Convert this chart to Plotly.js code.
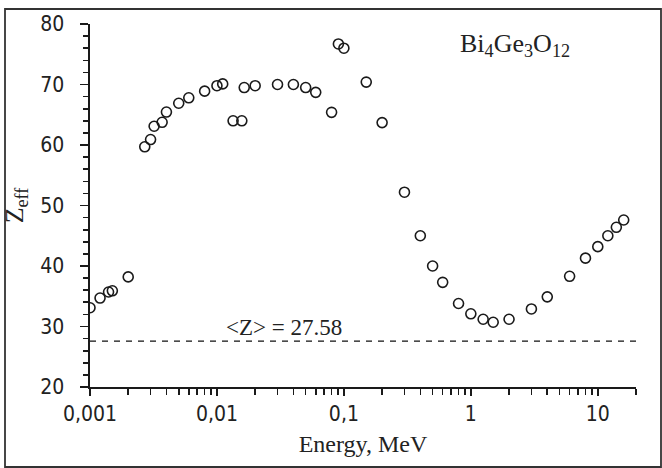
<!DOCTYPE html>
<html>
<head>
<meta charset="utf-8">
<script src="https://cdn.plot.ly/plotly-3.0.1.min.js"></script>
<style>html,body{margin:0;padding:0;background:#fff;}#chart{width:662px;height:468px;}</style>
</head>
<body>
<div id="chart"></div>
<script>
// Photon energy (MeV)
const energy = [0.001, 0.0012, 0.0014, 0.0015, 0.002, 0.0027, 0.003, 0.0032, 0.0037, 0.004,
  0.005, 0.006, 0.008, 0.01, 0.0111, 0.0134, 0.0157, 0.0164, 0.02, 0.03,
  0.04, 0.05, 0.06, 0.08, 0.0905, 0.1, 0.15, 0.2, 0.3, 0.4,
  0.5, 0.6, 0.8, 1, 1.25, 1.5, 2, 3, 4, 6,
  8, 10, 12, 14, 16];
// Effective atomic number
const zeff = [33.1, 34.7, 35.7, 35.9, 38.2, 59.7, 60.9, 63.1, 63.75, 65.45,
  66.9, 67.8, 68.9, 69.8, 70.1, 64.0, 64.0, 69.5, 69.8, 70.0,
  70.0, 69.5, 68.7, 65.4, 76.7, 76.0, 70.4, 63.7, 52.2, 45.0,
  40.0, 37.3, 33.8, 32.1, 31.2, 30.7, 31.2, 32.9, 34.9, 38.3,
  41.3, 43.2, 45.0, 46.4, 47.6];
// Mean atomic number line
const meanZ = 27.58;
const meanLineX = [0.001, 20];
// Tick values / labels
const xTickVals = [0.001, 0.01, 0.1, 1, 10];
const xTickText = ["0,001", "0,01", "0,1", "1", "10"];
const yTickVals = [20, 30, 40, 50, 60, 70, 80];

const tickFont = {family: "DejaVu Sans Condensed, DejaVu Sans, sans-serif", size: 21, color: "#222"};
const serif = "Liberation Serif, Times New Roman, serif";

const traces = [
  {
    x: meanLineX, y: meanLineX.map(() => meanZ),
    mode: "lines", type: "scatter", hoverinfo: "skip", showlegend: false,
    line: {color: "#111", width: 1.3, dash: "6px,6px"}
  },
  {
    x: energy, y: zeff, mode: "markers", type: "scatter", showlegend: false,
    marker: {symbol: "circle-open", size: 10, color: "#1a1a1a", line: {width: 1.6, color: "#1a1a1a"}}
  }
];

const L = 90, R = 26, T = 24, B = 81, W = 662 - L - R, H = 468 - T - B;
const px = v => (v - L) / W;
const py = v => (468 - B - v) / H;

const layout = {
  width: 662, height: 468,
  margin: {l: L, r: R, t: T, b: B, pad: 0},
  paper_bgcolor: "#fff", plot_bgcolor: "#fff",
  showlegend: false,
  xaxis: {
    type: "log", range: [-3, Math.log10(20)],
    tickmode: "array", tickvals: xTickVals, ticktext: xTickText,
    ticks: "outside", ticklen: 7, tickwidth: 1.6, tickcolor: "#1a1a1a",
    minor: {dtick: "D1", ticks: "outside", ticklen: 6, tickwidth: 1.6, tickcolor: "#1a1a1a", showgrid: false},
    showline: true, linecolor: "#1a1a1a", linewidth: 1.6,
    showgrid: false, zeroline: false,
    tickfont: tickFont, ticklabelstandoff: 0,
    title: {text: "Energy, MeV", font: {family: serif, size: 24, color: "#222"}, standoff: 10}
  },
  yaxis: {
    range: [20, 80],
    tickmode: "array", tickvals: yTickVals,
    ticks: "outside", ticklen: 8, tickwidth: 1.6, tickcolor: "#1a1a1a",
    minor: {dtick: 2, tick0: 20, ticks: "outside", ticklen: 5, tickwidth: 1.6, tickcolor: "#1a1a1a", showgrid: false},
    showline: true, linecolor: "#1a1a1a", linewidth: 1.6,
    showgrid: false, zeroline: false,
    tickfont: tickFont, ticklabelstandoff: 12,
    title: {text: "Z<sub>eff</sub>", font: {family: serif, size: 26, color: "#222"}, standoff: 30}
  },
  annotations: [
    {
      x: Math.log10(0.0337), y: 29.9, xref: "x", yref: "y",
      text: "&lt;Z&gt; = 27.58", showarrow: false,
      font: {family: serif, size: 23, color: "#222"}
    },
    {
      x: Math.log10(2.24), y: 76.6, xref: "x", yref: "y",
      text: "Bi<sub>4</sub>Ge<sub>3</sub>O<sub>12</sub>", showarrow: false,
      font: {family: serif, size: 26, color: "#222"}
    }
  ],
  shapes: [
    {type: "rect", xref: "paper", yref: "paper",
     x0: px(5), x1: px(661), y0: py(467), y1: py(9),
     line: {color: "#333", width: 1.8}, fillcolor: "rgba(0,0,0,0)"}
  ]
};

Plotly.newPlot("chart", traces, layout, {displayModeBar: false, staticPlot: true});
</script>
</body>
</html>
